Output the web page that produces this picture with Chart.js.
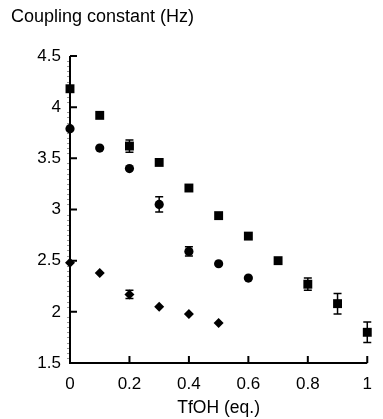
<!DOCTYPE html>
<html>
<head>
    <title>Coupling constant vs TfOH</title>
    <script src="https://cdn.jsdelivr.net/npm/chart.js"></script>
    <style>
        body {
            margin: 0;
            padding: 0;
            background: #fff;
        }
        .wrap {
            width: 383px;
            height: 419px;
        }
    </style>
</head>
<body>
    <div class="wrap">
        <canvas id="couplingChart" width="383" height="419"></canvas>
    </div>

    <script>
        // TfOH equivalents
        const tfohEq = [0, 0.1, 0.2, 0.3, 0.4, 0.5, 0.6, 0.7, 0.8, 0.9, 1.0];

        // squares
        const squareJ   = [4.18, 3.92, 3.62, 3.46, 3.21, 2.94, 2.74, 2.50, 2.27, 2.08, 1.80];
        const squareErr = [0, 0, 0.06, 0, 0, 0, 0, 0, 0.06, 0.1, 0.1];

        // circles
        const circleJ   = [3.79, 3.60, 3.40, 3.05, 2.59, 2.47, 2.33];
        const circleErr = [0, 0, 0, 0.075, 0.045, 0, 0];

        // diamonds
        const diamondJ   = [2.48, 2.38, 2.17, 2.05, 1.98, 1.89];
        const diamondErr = [0, 0, 0.04, 0, 0, 0];

        const yTicks = [1.5, 2, 2.5, 3, 3.5, 4, 4.5];
        const xTicks = [0, 0.2, 0.4, 0.6, 0.8, 1];

        function toPoints(ys, errs) {
            return ys.map((y, i) => ({ x: tfohEq[i], y: y, err: errs[i] }));
        }

        // vertical error bars with caps
        const errorBars = {
            id: 'errorBars',
            beforeDatasetsDraw(chart) {
                const ctx = chart.ctx;
                const yScale = chart.scales.y;
                ctx.save();
                ctx.strokeStyle = '#000';
                ctx.lineWidth = 1.5;
                chart.data.datasets.forEach((ds, di) => {
                    const meta = chart.getDatasetMeta(di);
                    ds.data.forEach((p, i) => {
                        if (!p.err) return;
                        const px = meta.data[i].x;
                        const top = yScale.getPixelForValue(p.y + p.err);
                        const bot = yScale.getPixelForValue(p.y - p.err);
                        ctx.beginPath();
                        ctx.moveTo(px, top); ctx.lineTo(px, bot);
                        ctx.moveTo(px - 4, top); ctx.lineTo(px + 4, top);
                        ctx.moveTo(px - 4, bot); ctx.lineTo(px + 4, bot);
                        ctx.stroke();
                    });
                });
                ctx.restore();
            }
        };

        // axes: inward major ticks, tiny minor ticks, and the y title
        const axesDecor = {
            id: 'axesDecor',
            beforeDatasetsDraw(chart) {
                const ctx = chart.ctx;
                const xs = chart.scales.x, ys = chart.scales.y;
                const left = chart.chartArea.left, bottom = chart.chartArea.bottom;
                ctx.save();
                ctx.strokeStyle = '#000';
                ctx.lineWidth = 2;
                ctx.beginPath();
                ctx.moveTo(left, chart.chartArea.top);
                ctx.lineTo(left, bottom);
                ctx.lineTo(chart.chartArea.right, bottom);
                ctx.stroke();
                ctx.beginPath();
                yTicks.forEach(v => {
                    const py = ys.getPixelForValue(v);
                    ctx.moveTo(left, py); ctx.lineTo(left + 7, py);
                });
                xTicks.forEach(v => {
                    const px = xs.getPixelForValue(v);
                    ctx.moveTo(px, bottom); ctx.lineTo(px, bottom - 7);
                });
                ctx.stroke();
                // minor ticks
                ctx.strokeStyle = '#999';
                ctx.lineWidth = 1;
                ctx.beginPath();
                for (let k = 31; k < 90; k++) {
                    if (k % 10 === 0) continue;
                    const py = Math.round(ys.getPixelForValue(k / 20)) + 0.5;
                    ctx.moveTo(left - 3, py); ctx.lineTo(left - 1, py);
                }
                ctx.stroke();
                // y title
                ctx.fillStyle = '#000';
                ctx.font = '18px "Liberation Sans", Arial, sans-serif';
                ctx.textBaseline = 'middle';
                ctx.textAlign = 'left';
                ctx.fillText('Coupling constant (Hz)', 11, 17);
                ctx.restore();
            }
        };

        const tickFont = { family: '"Liberation Sans", Arial, sans-serif', size: 17 };

        new Chart(document.getElementById('couplingChart'), {
            type: 'scatter',
            data: {
                datasets: [
                    {
                        label: 'squares',
                        data: toPoints(squareJ, squareErr),
                        pointStyle: 'rect',
                        pointRadius: 6.3,
                        backgroundColor: '#000',
                        borderColor: '#000',
                        borderWidth: 0,
                        clip: false
                    },
                    {
                        label: 'circles',
                        data: toPoints(circleJ, circleErr),
                        pointStyle: 'circle',
                        pointRadius: 4.6,
                        backgroundColor: '#000',
                        borderColor: '#000',
                        borderWidth: 0,
                        clip: false
                    },
                    {
                        label: 'diamonds',
                        data: toPoints(diamondJ, diamondErr),
                        pointStyle: 'rectRot',
                        pointRadius: 5,
                        backgroundColor: '#000',
                        borderColor: '#000',
                        borderWidth: 0,
                        clip: false
                    }
                ]
            },
            options: {
                responsive: false,
                animation: false,
                events: [],
                layout: { padding: { top: 56, right: 7, left: 0, bottom: 0 } },
                plugins: {
                    legend: { display: false },
                    tooltip: { enabled: false }
                },
                scales: {
                    x: {
                        type: 'linear',
                        min: 0,
                        max: 1,
                        afterFit(scale) { scale.height = 56; },
                        afterBuildTicks(scale) { scale.ticks = xTicks.map(v => ({ value: v })); },
                        grid: { display: false, drawTicks: false },
                        border: { display: false },
                        ticks: {
                            padding: 11,
                            color: '#000',
                            font: tickFont,
                            callback: v => String(v)
                        },
                        title: {
                            display: true,
                            text: 'TfOH (eq.)',
                            color: '#000',
                            font: { family: '"Liberation Sans", Arial, sans-serif', size: 17.5 },
                            padding: { top: 3, bottom: 0 }
                        }
                    },
                    y: {
                        min: 1.5,
                        max: 4.5,
                        afterFit(scale) { scale.width = 70; },
                        afterBuildTicks(scale) { scale.ticks = yTicks.map(v => ({ value: v })); },
                        grid: { display: false, drawTicks: false },
                        border: { display: false },
                        ticks: {
                            padding: 9,
                            color: '#000',
                            font: tickFont,
                            callback: v => String(v)
                        }
                    }
                }
            },
            plugins: [errorBars, axesDecor]
        });
    </script>
</body>
</html>
